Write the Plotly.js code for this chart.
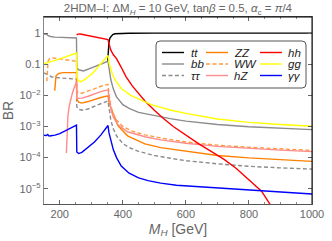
<!DOCTYPE html>
<html><head><meta charset="utf-8">
<script src="https://cdn.plot.ly/plotly-3.0.1.min.js"></script>
<style>html,body{margin:0;padding:0;background:#fff}#chart{width:332px;height:241px}</style>
</head><body><div id="chart"></div>
<script>
// ---- data (BR vs M_H in GeV) ----
const ttM  = [352, 354, 356, 359, 363, 368, 375, 390, 420, 500, 700, 1000];
const ttBR = [0.126, 0.316, 0.501, 0.692, 0.813, 0.891, 0.944, 0.973, 0.984, 0.991, 0.993, 0.995];

const bbM  = [150, 158, 162, 170, 185, 210, 253, 254, 260, 275, 295, 315, 335, 350, 353, 356, 362, 370, 380, 400, 420, 450, 500, 550, 600, 700, 800, 900, 1000];
const bbBR = [0.933, 0.912, 0.832, 0.776, 0.741, 0.724, 0.692, 0.0759, 0.0661, 0.0603, 0.0708, 0.0871, 0.105, 0.120, 0.126, 0.0794, 0.0316, 0.0158, 0.00891, 0.00501, 0.0038, 0.00282, 0.00219, 0.00178, 0.00148, 0.00115, 0.000977, 0.000871, 0.000794];

const tautauM  = [150, 160, 165, 175, 200, 253, 254, 260, 275, 295, 315, 335, 353, 356, 362, 370, 380, 400, 420, 450, 500, 550, 600, 700, 800, 900, 1000];
const tautauBR = [0.0525, 0.0468, 0.0417, 0.0389, 0.0363, 0.0331, 0.00427, 0.00355, 0.00331, 0.0038, 0.00468, 0.00562, 0.00661, 0.00417, 0.00158, 0.000832, 0.000501, 0.000282, 0.000209, 0.000158, 0.000117, 9.55e-5, 7.94e-5, 6.31e-5, 5.25e-5, 4.68e-5, 4.27e-5];

const zzM  = [184, 185.5, 188, 195, 210, 253, 254, 260, 270, 290, 310, 330, 353, 356, 362, 370, 385, 415, 470, 520, 600, 700, 800, 900, 1000];
const zzBR = [0.0141, 0.0316, 0.0417, 0.0501, 0.0537, 0.0537, 0.00759, 0.00603, 0.00562, 0.00631, 0.00741, 0.00851, 0.00955, 0.00631, 0.00398, 0.00251, 0.00105, 0.000501, 0.000275, 0.000209, 0.000158, 0.000117, 9.77e-5, 8.51e-5, 7.59e-5];

const wwM  = [159, 161, 163, 168, 180, 200, 225, 253, 254, 260, 270, 290, 310, 330, 353, 356, 362, 370, 380, 400, 430, 470, 520, 600, 700, 800, 900, 1000];
const wwBR = [0.0282, 0.0794, 0.126, 0.151, 0.158, 0.148, 0.135, 0.123, 0.0138, 0.012, 0.0117, 0.0135, 0.0162, 0.0195, 0.0224, 0.0112, 0.00447, 0.00251, 0.00158, 0.001, 0.000708, 0.000537, 0.000427, 0.000316, 0.000251, 0.000214, 0.000191, 0.00017];

const hzM  = [221, 222.5, 224, 226, 230, 235, 240, 245, 250, 253, 254, 260, 270, 290, 310, 330, 353, 356, 362, 370, 385, 415, 470, 520, 600, 700, 800, 900, 1000];
const hzBR = [0.000141, 0.000501, 0.00112, 0.00224, 0.00447, 0.00759, 0.0117, 0.0166, 0.0224, 0.0275, 0.00794, 0.00813, 0.00813, 0.00933, 0.0112, 0.0132, 0.0151, 0.00794, 0.00355, 0.002, 0.00112, 0.000676, 0.000468, 0.000372, 0.000288, 0.000229, 0.000195, 0.000174, 0.000155];

const hhM  = [253.5, 258, 265, 280, 300, 320, 340, 350, 353, 355, 357, 362, 370, 380, 395, 410, 430, 450, 470, 500, 527, 560, 600, 640, 680, 720, 760, 800, 840, 870];
const hhBR = [0.871, 0.923, 0.933, 0.871, 0.794, 0.741, 0.676, 0.646, 0.617, 0.501, 0.398, 0.282, 0.2, 0.151, 0.0794, 0.0398, 0.02, 0.0112, 0.00661, 0.00331, 0.00186, 0.001, 0.000525, 0.000282, 0.000158, 8.91e-5, 4.47e-5, 2.0e-5, 8.32e-6, 2.82e-6];

const ggM  = [150, 160, 175, 200, 225, 253, 254, 260, 268, 285, 305, 325, 340, 353, 356, 360, 366, 375, 395, 425, 455, 490, 550, 600, 700, 800, 900, 1000];
const ggBR = [0.105, 0.11, 0.123, 0.148, 0.182, 0.229, 0.038, 0.0288, 0.0275, 0.0355, 0.0525, 0.0891, 0.132, 0.191, 0.112, 0.0759, 0.0501, 0.0316, 0.0166, 0.01, 0.00708, 0.00501, 0.00339, 0.00263, 0.00174, 0.00135, 0.00115, 0.00102];

const gamgamM  = [150, 158, 162, 166, 172, 185, 200, 225, 253, 254, 260, 270, 290, 310, 330, 345, 353, 356, 362, 370, 380, 395, 420, 450, 480, 520, 570, 700, 800, 900, 1000];
const gamgamBR = [0.000525, 0.000513, 0.000550, 0.000490, 0.000501, 0.000525, 0.000589, 0.000776, 0.00110, 0.000151, 0.000135, 0.000148, 0.000209, 0.000316, 0.000525, 0.000832, 0.00107, 0.000631, 0.000355, 0.000178, 0.0001, 5.37e-5, 3.16e-5, 2.24e-5, 1.82e-5, 1.51e-5, 1.29e-5, 1.05e-5, 8.91e-6, 7.76e-6, 6.76e-6];

const xTickVals = [200, 400, 600, 800, 1000];
const yTickVals = [1, 0.1, 0.01, 0.001, 1e-4, 1e-5];
const yTickText = ['1', '0.1', '10<sup>\u22122</sup>', '10<sup>\u22123</sup>', '10<sup>\u22124</sup>', '10<sup>\u22125</sup>'];

// ---- series styling ----
const series = [
  {name:'tt', x:ttM, y:ttBR, color:'#000000', dash:'solid'},
  {name:'bb', x:bbM, y:bbBR, color:'#8c8c8c', dash:'solid'},
  {name:'\u03c4\u03c4', x:tautauM, y:tautauBR, color:'#8c8c8c', dash:'4px,2.5px'},
  {name:'ZZ', x:zzM, y:zzBR, color:'#ff8000', dash:'solid'},
  {name:'WW', x:wwM, y:wwBR, color:'#ff9a40', dash:'4px,2.5px'},
  {name:'hZ', x:hzM, y:hzBR, color:'#ff8c8c', dash:'solid'},
  {name:'hh', x:hhM, y:hhBR, color:'#ff0000', dash:'solid'},
  {name:'gg', x:ggM, y:ggBR, color:'#ffff00', dash:'solid'},
  {name:'\u03b3\u03b3', x:gamgamM, y:gamgamBR, color:'#0000ff', dash:'solid'}
];

const traces = series.map(s => ({
  type:'scatter', mode:'lines', x:s.x, y:s.y, name:s.name, showlegend:false,
  line:{color:s.color, width:1.4, dash:s.dash}, hoverinfo:'skip'
}));

// ---- layout geometry ----
const M = {l:44, r:20, t:17, b:37};
const W = 332, H = 241;
const pw = W - M.l - M.r, ph = H - M.t - M.b;
const px = v => (v - M.l) / pw;
const py = v => (H - M.b - v) / ph;

// custom legend (3 columns x 3 rows) drawn in paper coordinates
const legendCols = [[0,1,2],[3,4,5],[6,7,8]];
const colLineX = [162, 206, 260];
const colTextX = [189, 232, 286];
const rowY = [52.5, 64, 75.5];
const shapes = [];
const annotations = [];
(function(){
  const x0=156, x1=306, y0=41, y1=88, r=4;
  const d = `M${px(x0+r)},${py(y0)} L${px(x1-r)},${py(y0)} Q${px(x1)},${py(y0)} ${px(x1)},${py(y0+r)} ` +
            `L${px(x1)},${py(y1-r)} Q${px(x1)},${py(y1)} ${px(x1-r)},${py(y1)} ` +
            `L${px(x0+r)},${py(y1)} Q${px(x0)},${py(y1)} ${px(x0)},${py(y1-r)} ` +
            `L${px(x0)},${py(y0+r)} Q${px(x0)},${py(y0)} ${px(x0+r)},${py(y0)} Z`;
  shapes.push({type:'path', xref:'paper', yref:'paper', path:d, fillcolor:'#ffffff', line:{color:'#555', width:1}, layer:'above'});
})();
legendCols.forEach((col, ci) => {
  col.forEach((si, ri) => {
    const s = series[si];
    shapes.push({type:'line', xref:'paper', yref:'paper', x0:px(colLineX[ci]), x1:px(colLineX[ci]+22),
      y0:py(rowY[ri]), y1:py(rowY[ri]), line:{color:s.color, width:1.4, dash:s.dash}, layer:'above'});
    annotations.push({xref:'paper', yref:'paper', x:px(colTextX[ci]), y:py(rowY[ri]), xanchor:'left', yanchor:'middle',
      text:'<i>'+s.name+'</i>', showarrow:false, font:{family:'Liberation Sans, Arial, sans-serif', size:11.5, color:'#222'}});
  });
});
shapes.push({type:'line', xref:'paper', yref:'paper', x0:0, x1:1, y0:1, y1:1, line:{color:'#000', width:1}, layer:'above'});
shapes.push({type:'line', xref:'paper', yref:'paper', x0:1, x1:1, y0:0, y1:1, line:{color:'#000', width:1}, layer:'above'});

const font = {family:'Liberation Sans, Arial, sans-serif', size:11, color:'#666'};
const layout = {
  width:W, height:H, margin:M, paper_bgcolor:'#fff', plot_bgcolor:'#fff', showlegend:false, font:font,
  title:{text:'2HDM\u2013I: \u0394M<sub><i>H</i></sub> = 10 GeV, tan<i>\u03b2</i> = 0.5, <i>\u03b1</i><sub>c</sub> = <i>\u03c0</i>/4',
    x:0.536, xanchor:'center', y:0.965, yanchor:'middle', font:{family:'Liberation Sans, Arial, sans-serif', size:11.5, color:'#666'}},
  xaxis:{range:[150,1000], tickvals:xTickVals, ticktext:xTickVals.map(String), ticks:'inside', ticklen:4, tickcolor:'#666',
    minor:{dtick:50, tick0:0, ticks:'inside', ticklen:2, tickcolor:'#888'},
    showline:true, linecolor:'#555', linewidth:1, mirror:'ticks', showgrid:false, zeroline:false,
    tickfont:{size:11, color:'#666'},
    title:{text:'<i>M</i><sub><i>H</i></sub> [GeV]', font:{size:14, color:'#666'}, standoff:4}},
  yaxis:{type:'log', range:[-5.49, 0.515], tickvals:yTickVals, ticktext:yTickText, ticks:'inside', ticklen:4, tickcolor:'#666',
    showline:true, linecolor:'#888', linewidth:1.2, mirror:'ticks', showgrid:false, zeroline:false,
    tickfont:{size:11, color:'#666'},
    title:{text:'BR', font:{size:14, color:'#666'}, standoff:4}},
  shapes:shapes, annotations:annotations
};
Plotly.newPlot('chart', traces, layout, {staticPlot:true, displayModeBar:false});
</script></body></html>
